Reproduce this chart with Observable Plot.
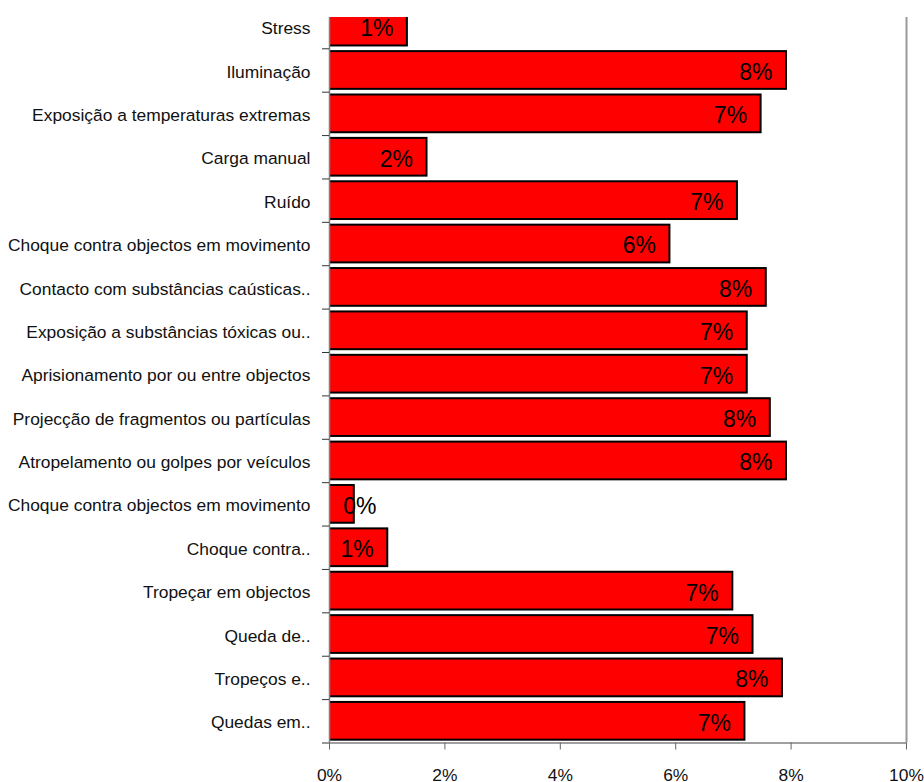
<!DOCTYPE html>
<html><head><meta charset="utf-8">
<script src="https://cdn.jsdelivr.net/npm/d3@7"></script>
<script src="https://cdn.jsdelivr.net/npm/@observablehq/plot@0.6"></script>
<style>body{margin:0;background:#fff}</style>
</head><body><div id="chart"></div>
<script>
const categories = [
  "Stress",
  "Iluminação",
  "Exposição a temperaturas extremas",
  "Carga manual",
  "Ruído",
  "Choque contra objectos em movimento",
  "Contacto com substâncias caústicas..",
  "Exposição a substâncias tóxicas ou..",
  "Aprisionamento por ou entre objectos",
  "Projecção de fragmentos ou partículas",
  "Atropelamento ou golpes por veículos",
  "Choque contra objectos em movimento",
  "Choque contra..",
  "Tropeçar em objectos",
  "Queda de..",
  "Tropeços e..",
  "Quedas em.."
];
const values = [1.35, 7.92, 7.48, 1.69, 7.07, 5.90, 7.57, 7.24, 7.24, 7.64, 7.92, 0.43, 1.01, 6.99, 7.34, 7.85, 7.20];
const xTicks = [0, 2, 4, 6, 8, 10];

const data = categories.map((c, i) => ({category: c, value: values[i], index: i}));
const idx = d3.range(categories.length);
const boundaries = idx.map(i => i + 0.5);
const pct = d => Math.round(d.value) + "%";

const chart = Plot.plot({
  width: 924,
  height: 782,
  marginLeft: 329,
  marginRight: 18,
  marginTop: 17,
  marginBottom: 39.5,
  style: {fontFamily: "'Liberation Sans', Arial, sans-serif", fontSize: "17.4px", background: "white", overflow: "visible"},
  x: {domain: [0, 10], axis: null},
  y: {domain: [-0.5, categories.length - 0.5], range: [4.9, 742.5], axis: null},
  marks: [
    Plot.ruleX([10], {stroke: "#999", strokeWidth: 2}),
    Plot.rectX(data, {x1: 0, x2: "value", y1: d => d.index - 0.435, y2: d => d.index + 0.435, fill: "#ff0000", stroke: "#000", strokeWidth: 2, clip: true}),
    Plot.ruleX([0], {stroke: "#808080", strokeWidth: 1.5}),
    Plot.ruleY([categories.length - 0.5], {x1: 0, x2: 10, stroke: "#808080", strokeWidth: 1.5}),
    Plot.text(data.filter(d => d.value >= 0.9), {x: "value", y: "index", text: pct, textAnchor: "end", dx: -14, dy: 2, fontSize: 23, fill: "#000", clip: true}),
    Plot.text(data.filter(d => d.value < 0.9), {x: 0, y: "index", text: pct, textAnchor: "start", dx: 13.7, dy: 2, fontSize: 23, fill: "#000", clip: true}),
    Plot.axisY(idx, {tickSize: 0, tickPadding: 19, tickFormat: i => categories[i], fill: "#111", dy: 1.5, label: null}),
    Plot.axisY(boundaries, {tickSize: 7, tickFormat: () => "", stroke: "#333", label: null}),
    Plot.axisX(xTicks, {tickSize: 7, tickPadding: 18.5, tickFormat: d => d + "%", stroke: "#666", fill: "#111", label: null})
  ]
});
document.getElementById("chart").appendChild(chart);
</script>
</body></html>
